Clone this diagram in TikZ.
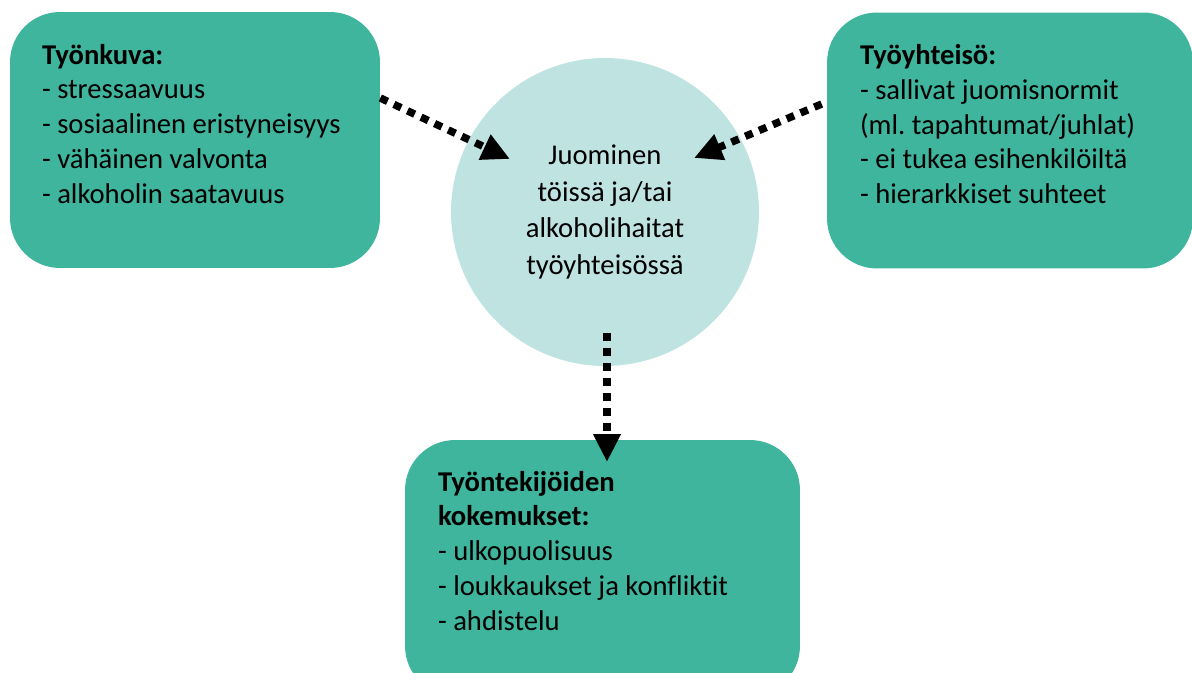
\documentclass[tikz,border=0pt]{standalone}
\usepackage{fontspec}
\setmainfont[Ligatures=NoCommon]{Carlito}
\usetikzlibrary{positioning,arrows.meta}
\frenchspacing

\definecolor{boxteal}{HTML}{3EB59C}
\definecolor{circteal}{HTML}{BEE3E1}

\tikzset{
  infobox/.style={fill=boxteal, rounded corners=1cm, minimum width=#1, minimum height=5.12cm},
  boxtext/.style={anchor=north west, align=left, inner sep=0pt, font=\fontsize{16.3}{19.8}\selectfont},
  dotarrow/.style={line width=0.15cm, dash pattern=on 0.16cm off 0.14cm, -{Triangle[length=0.56cm,width=0.52cm]}}
}

\begin{document}
\begin{tikzpicture}[x=0.02cm, y=-0.02cm]
	% Frame:
	\useasboundingbox (0,0) rectangle (1192,672);
	\clip (0,0) rectangle (1192,672);
	% Boxes and circle:
	\node[infobox=7.4cm] (lbox) at (195,140) {};
	\node[infobox=7.32cm] (rbox) at (1010,140.5) {};
	\node[infobox=7.9cm] (bbox) at (602.5,568) {};
	\node[circle, fill=circteal, minimum size=6.16cm, inner sep=0pt, align=center, font=\fontsize{16.3}{21}\selectfont] (circ) at (605,212) {Juominen\\töissä ja/tai\\alkoholihaitat\\työyhteisössä};
	% Texts:
	\node[boxtext, below right=0.64cm and 0.64cm of lbox.north west] (ltext) {\textbf{Työnkuva:}\\- stressaavuus\\- sosiaalinen eristyneisyys\\- vähäinen valvonta\\- alkoholin saatavuus};
	\node[boxtext, below right=0.64cm and 0.66cm of rbox.north west] (rtext) {\textbf{Työyhteisö:}\\- sallivat juomisnormit\\(ml. tapahtumat/juhlat)\\- ei tukea esihenkilöiltä\\- hierarkkiset suhteet};
	\node[boxtext, below right=0.62cm and 0.66cm of bbox.north west] (btext) {\textbf{Työntekijöiden}\\\textbf{kokemukset:}\\- ulkopuolisuus\\- loukkaukset ja konfliktit\\- ahdistelu};
	% Arrows:
	\coordinate (lin) at (510,159);
	\coordinate (rin) at (694,158);
	\coordinate (cout) at (607,333);
	\coordinate (bin) at (607,462);
	\draw[dotarrow] ([yshift=0.84cm]lbox.east) -- (lin);
	\draw[dotarrow] ([yshift=0.73cm, xshift=-0.1cm]rbox.west) -- (rin);
	\draw[dotarrow] (cout) -- (bin);
\end{tikzpicture}
\end{document}
